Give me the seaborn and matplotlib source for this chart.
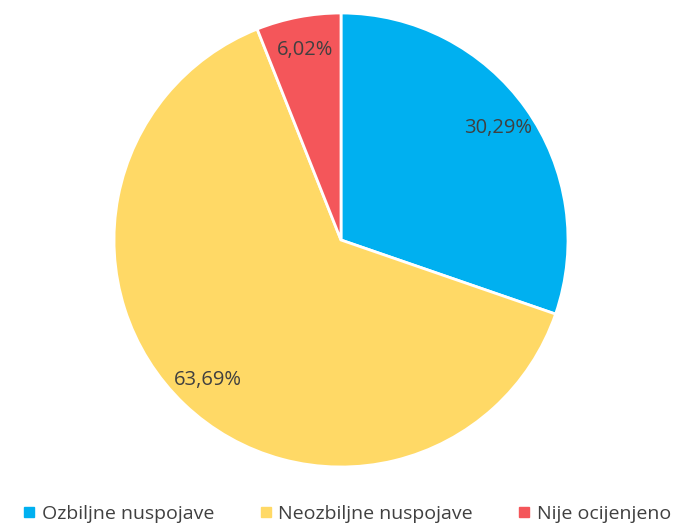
import matplotlib
matplotlib.use("Agg")
import matplotlib.pyplot as plt
import seaborn as sns
from matplotlib.lines import Line2D

categories = ["Ozbiljne nuspojave", "Neozbiljne nuspojave", "Nije ocijenjeno"]
values = [30.29, 63.69, 6.02]
colors = ["#00B0F0", "#FFD966", "#F4565A"]

sns.set_theme(style="white")
plt.rcParams['font.family'] = ['Open Sans', 'DejaVu Sans']

fig = plt.figure(figsize=(6.86, 5.28), dpi=100)
ax = fig.add_axes([114/686, 61/528, 454/686, 454/528])

def fmt(p):
    return f"{p:.2f}".replace('.', ',') + '%'

wedges, texts, autotexts = ax.pie(
    values, colors=colors, startangle=90, counterclock=False,
    autopct=fmt, pctdistance=0.85, radius=1,
    wedgeprops=dict(edgecolor='white', linewidth=2),
    textprops=dict(color='#404040', fontsize=14.5))
ax.set_xlim(-1, 1)
ax.set_ylim(-1, 1)
ax.set_aspect('equal')

handles = [Line2D([0], [0], marker='s', linestyle='', markersize=7,
                  markerfacecolor=c, markeredgecolor=c) for c in colors]
fig.legend(handles, categories, loc='center', ncol=3,
           bbox_to_anchor=(0.507, 14/528), frameon=False,
           fontsize=14, handlelength=0.5, handletextpad=0.4,
           columnspacing=2.4, labelcolor='#404040')

fig.savefig("out.png", dpi=100)
